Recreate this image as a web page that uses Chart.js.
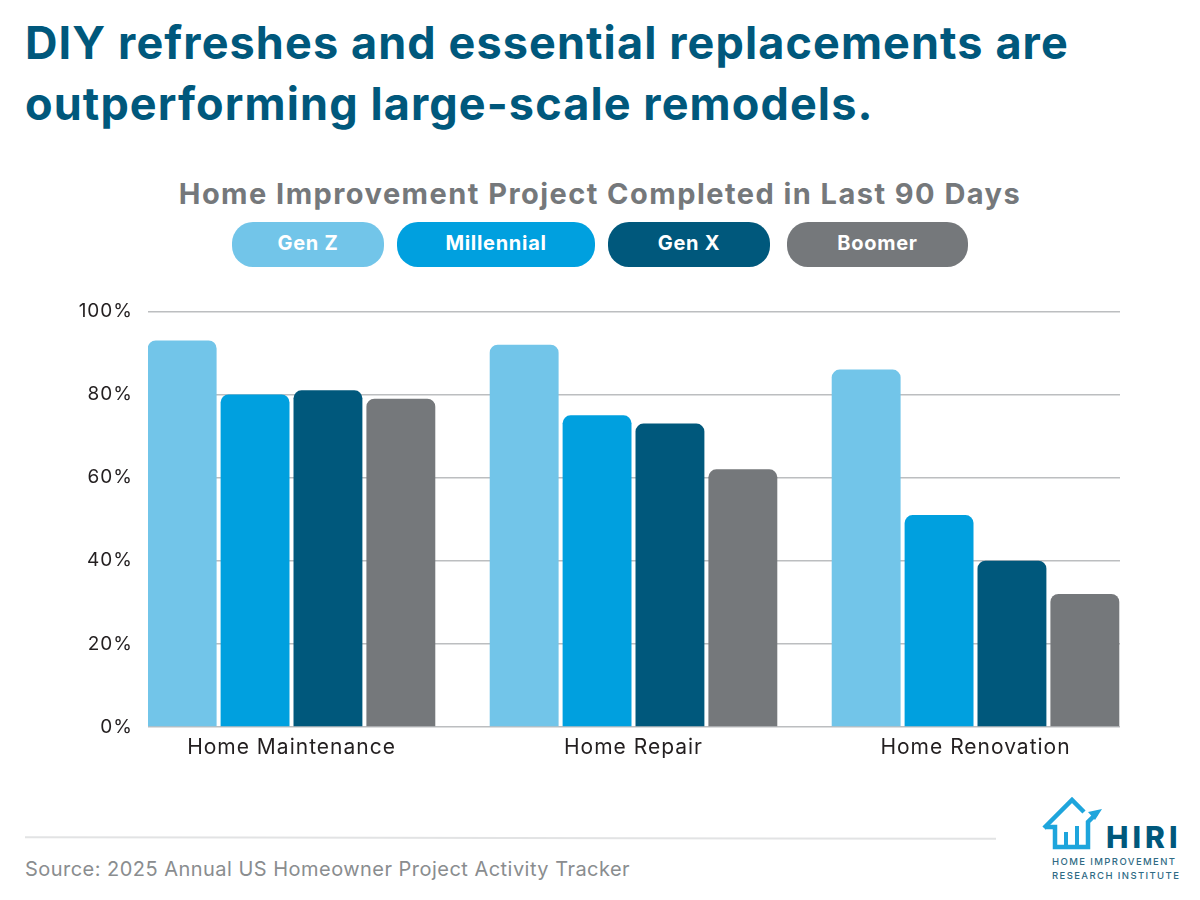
<!DOCTYPE html>
<html>
<head>
<meta charset="utf-8">
<title>Home Improvement Project Completed in Last 90 Days</title>
<script src="https://cdn.jsdelivr.net/npm/chart.js@4"></script>
<style>
  html, body { margin: 0; padding: 0; background: #fff; }
  body { width: 1200px; height: 900px; position: relative; overflow: hidden; font-family: Inter, sans-serif; }
  .abs { position: absolute; white-space: nowrap; }
  .headline { left: 25px; top: 12px; font-size: 45px; line-height: 61px; font-weight: 700; color: #00587c; letter-spacing: 1.1px; }
  .chart-title { left: 0; width: 1200px; top: 176px; text-align: center; font-size: 29px; line-height: 36px; font-weight: 700; color: #75787b; letter-spacing: 1.45px; }
  .pill { top: 222px; height: 45px; line-height: 43px; border-radius: 21px; text-align: center; color: #fff; font-size: 20px; font-weight: 700; letter-spacing: 0.7px; }
  .source { left: 25px; top: 857px; font-size: 20px; line-height: 24px; color: #8a8d8f; letter-spacing: 0.47px; }
  .rule { left: 25px; top: 837px; width: 971px; height: 2px; background: #e2e3e4; transform: rotate(0.1deg); }
  #wrap { position: absolute; left: 0; top: 285px; width: 1200px; height: 486px; }
  .hiri { left: 1106px; top: 818px; font-size: 30px; line-height: 38px; font-weight: 800; color: #00587c; letter-spacing: 4px; }
  .hiri-sub { left: 1052px; font-size: 9.5px; line-height: 12px; font-weight: 500; color: #2f6b85; letter-spacing: 1.4px; }
</style>
</head>
<body>

<div class="abs headline">DIY refreshes and essential replacements are<br>outperforming large-scale remodels.</div>
<div class="abs chart-title">Home Improvement Project Completed in Last 90 Days</div>
<div id="legend"></div>

<div id="wrap"><canvas id="projects"></canvas></div>

<div class="abs rule"></div>
<div class="abs source">Source: 2025 Annual US Homeowner Project Activity Tracker</div>

<!-- logo -->
<svg class="abs" style="left:1030px;top:785px" width="90" height="70" viewBox="1030 785 90 70" fill="none">
  <path d="M1044 828 L1072 800 L1084 812" stroke="#1ea5dc" stroke-width="4.5"/>
  <path d="M1045 827 H1055 V847 H1088 V822 L1096 814" stroke="#1ea5dc" stroke-width="4.5"/>
  <path d="M1066 846 V832 M1077 846 V826" stroke="#1ea5dc" stroke-width="4"/>
  <path d="M1088 812 L1102 809 L1095 820 Z" fill="#1ea5dc"/>
</svg>
<div class="abs hiri">HIRI</div>
<div class="abs hiri-sub" style="top:856px">HOME IMPROVEMENT</div>
<div class="abs hiri-sub" style="top:870px">RESEARCH INSTITUTE</div>

<script>
const categories = ["Home Maintenance", "Home Repair", "Home Renovation"];
const seriesNames = ["Gen Z", "Millennial", "Gen X", "Boomer"];
const seriesColors = ["#72c5e9", "#00a0df", "#00587c", "#75787b"];

const genZ = [93, 92, 86];
const millennial = [80, 75, 51];
const genX = [81, 73, 40];
const boomer = [79, 62, 32];

const yTicks = [0, 20, 40, 60, 80, 100];

// pill legend above the plot
const pillBoxes = [[232, 152], [397, 198], [608, 162], [787, 181]];
seriesNames.forEach((name, i) => {
  const el = document.createElement("div");
  el.className = "abs pill";
  el.textContent = name;
  el.style.left = pillBoxes[i][0] + "px";
  el.style.width = pillBoxes[i][1] + "px";
  el.style.background = seriesColors[i];
  document.getElementById("legend").appendChild(el);
});

const allSeries = [genZ, millennial, genX, boomer];

// axis labels are spaced out a little
const spacedText = {
  id: "spacedText",
  beforeDraw(chart) { chart.ctx.letterSpacing = "1px"; }
};

new Chart(document.getElementById("projects"), {
  type: "bar",
  plugins: [spacedText],
  data: {
    labels: categories.map((c, i) => i),
    datasets: allSeries.map((values, i) => ({
      label: seriesNames[i],
      data: values,
      backgroundColor: seriesColors[i],
      borderRadius: { topLeft: 8, topRight: 8 },
      borderSkipped: false,
      categoryPercentage: 0.8526,
      barPercentage: 0.945
    }))
  },
  options: {
    responsive: true,
    maintainAspectRatio: false,
    animation: false,
    layout: { autoPadding: false, padding: { top: 16, right: 80, left: 0, bottom: 0 } },
    plugins: { legend: { display: false }, tooltip: { enabled: false } },
    scales: {
      // numeric axis: the groups sit wider apart than an even split of the plot
      x: {
        type: "linear",
        offset: false,
        min: -0.4196,
        max: 2.4225,
        grid: { display: false },
        border: { display: false },
        afterBuildTicks: axis => { axis.ticks = categories.map((c, i) => ({ value: i })); },
        afterFit: axis => { axis.height = 44; },
        ticks: {
          autoSkip: false,
          maxRotation: 0,
          padding: 0,
          color: "#231f20",
          font: { family: "Inter", size: 21 },
          callback: v => categories[v]
        }
      },
      y: {
        min: 0,
        max: 100,
        grid: { color: "#bcbec0", lineWidth: 1.5, drawTicks: false },
        border: { display: false },
        afterBuildTicks: axis => { axis.ticks = yTicks.map(v => ({ value: v })); },
        afterFit: axis => { axis.width = 148; },
        ticks: {
          padding: 15,
          color: "#231f20",
          font: { family: "Inter", size: 19 },
          callback: v => v + "%"
        }
      }
    }
  }
});
</script>
</body>
</html>
